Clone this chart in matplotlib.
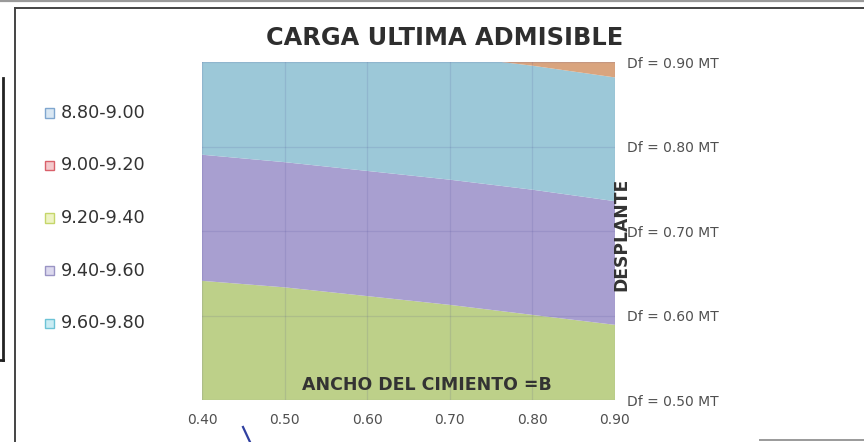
import numpy as np
import matplotlib.pyplot as plt
from matplotlib.lines import Line2D
from matplotlib.patches import Rectangle

plt.rcParams['font.family'] = ['DejaVu Sans']

# Ancho del cimiento B (m) and desplante Df (m)
ancho_b = [0.40, 0.50, 0.60, 0.70, 0.80, 0.90]
desplante_df = [0.50, 0.60, 0.70, 0.80, 0.90]

# Carga ultima admisible, one row per Df
carga_df050 = [9.211, 9.220, 9.234, 9.248, 9.264, 9.279]
carga_df060 = [9.345, 9.355, 9.369, 9.383, 9.399, 9.415]
carga_df070 = [9.479, 9.490, 9.504, 9.518, 9.534, 9.552]
carga_df080 = [9.613, 9.625, 9.639, 9.653, 9.669, 9.688]
carga_df090 = [9.747, 9.760, 9.774, 9.790, 9.806, 9.825]

niveles = [8.80, 9.00, 9.20, 9.40, 9.60, 9.80, 10.00]
rangos = ['8.80-9.00', '9.00-9.20', '9.20-9.40', '9.40-9.60', '9.60-9.80']
df_labels = ['Df = 0.50 MT', 'Df = 0.60 MT', 'Df = 0.70 MT', 'Df = 0.80 MT', 'Df = 0.90 MT']

# band fills on the surface and legend swatch colours
band_colors = ['#9fbfd8', '#d88f8a', '#bdd089', '#a89fd0', '#9cc8d8', '#d9a47e']
swatch_edge = ['#7fa6cf', '#d9606a', '#c5d66a', '#9a94c4', '#6cc3d6']
swatch_fill = ['#d9e7f3', '#f4c9cc', '#eef3c4', '#dcd9ee', '#c9ecf3']

Z = np.array([carga_df050, carga_df060, carga_df070, carga_df080, carga_df090])
B, DF = np.meshgrid(ancho_b, desplante_df)

fig = plt.figure(figsize=(8.64, 4.42), dpi=100)
ax = fig.add_axes([0.2338, 0.0950, 0.4780, 0.7647])

ax.contourf(B, DF, Z, levels=niveles, colors=band_colors, antialiased=True)

# faint grid over the surface
for x in ancho_b:
    ax.axvline(x, color='#3a3a8a', alpha=0.12, lw=0.9)
for y in desplante_df:
    ax.axhline(y, color='#3a3a8a', alpha=0.12, lw=0.9)

ax.set_xlim(0.40, 0.90)
ax.set_ylim(0.50, 0.90)
for s in ax.spines.values():
    s.set_visible(False)

ax.set_xticks(ancho_b)
ax.set_xticklabels([f'{v:.2f}' for v in ancho_b], fontsize=10, color='#505050')
ax.tick_params(axis='x', length=0, pad=9)

ax.yaxis.tick_right()
ax.set_yticks(desplante_df)
ax.set_yticklabels(df_labels, fontsize=10, color='#505050')
ax.tick_params(axis='y', length=0, pad=9)

ax.text(0.545, 0.045, 'ANCHO DEL CIMIENTO =B', transform=ax.transAxes,
        ha='center', va='center', fontsize=12.5, fontweight='bold', color='#333333')
ax.text(1.015, 0.49, 'DESPLANTE', transform=ax.transAxes, rotation=90,
        ha='center', va='center', fontsize=12.3, fontweight='bold', color='#333333')

fig.text(445 / 864, 1 - 38 / 442, 'CARGA ULTIMA ADMISIBLE', ha='center', va='center',
         fontsize=17.3, fontweight='bold', color='#2e2e2e')

# legend swatches and labels
for i, lab in enumerate(rangos):
    yc = 113 + 52.5 * i
    fig.patches.append(Rectangle((45 / 864, 1 - (yc + 4.5) / 442), 9 / 864, 9 / 442,
                                 transform=fig.transFigure, facecolor=swatch_fill[i],
                                 edgecolor=swatch_edge[i], lw=1.0))
    fig.text(61 / 864, 1 - yc / 442, lab, ha='left', va='center',
             fontsize=12.7, color='#333333')

# chart frame and neighbouring border lines
def fline(x0, y0, x1, y1, color='#333333', lw=1.5):
    fig.add_artist(Line2D([x0 / 864, x1 / 864], [1 - y0 / 442, 1 - y1 / 442],
                          transform=fig.transFigure, color=color, lw=lw))

fline(0, 0.8, 864, 0.8, color='#9a9a9a', lw=1.6)
fline(14.5, 8, 864, 8, color='#444444', lw=1.4)
fline(14.5, 8, 14.5, 442, color='#444444', lw=1.4)
fline(2.5, 78, 2.5, 360, color='#222222', lw=2.0)
fline(0, 360, 3, 360, color='#222222', lw=2.0)
fline(760, 440, 864, 440, color='#9a9a9a', lw=1.4)

# pen stroke below the axis
fline(243, 427, 250, 442, color='#3040a0', lw=1.6)

fig.savefig('out.png', dpi=100)
